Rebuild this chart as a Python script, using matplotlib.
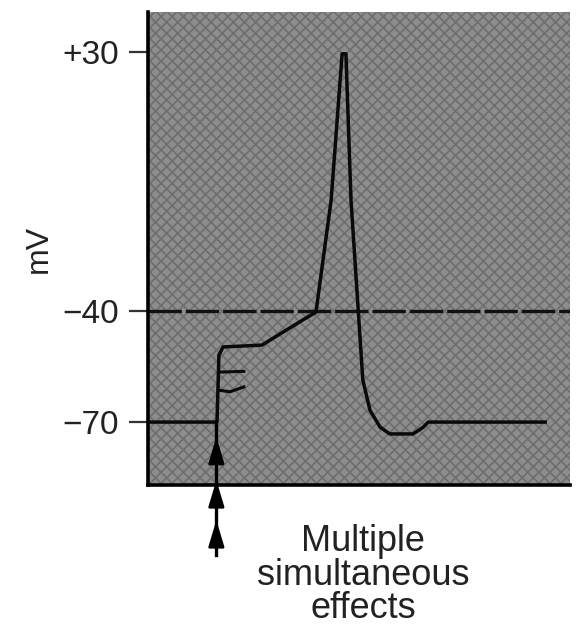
import matplotlib
matplotlib.use("Agg")
import matplotlib.pyplot as plt
from matplotlib.patches import Rectangle

plt.rcParams['font.family'] = ['Liberation Sans', 'DejaVu Sans']
plt.rcParams['hatch.linewidth'] = 1.2

# Membrane potential trace (time in arbitrary units, voltage in mV)
time_ms = [0.0, 16.35, 16.8, 17.8, 27.0, 36.7, 39.8, 43.4, 46.0, 46.9,
           48.1, 50.9, 52.6, 55.0, 57.3, 62.8, 65.2, 66.4, 94.1]
voltage_mv = [-70, -70, -51.9, -49.7, -49.2, -42.4, -40.3, -10.0, 29.5, 29.5,
              -10.0, -58.6, -66.8, -71.4, -73.2, -73.2, -71.4, -70, -70]

# Small summation steps on the rising phase
step_levels = [-56.5, -61.4]
step_start, step_end = 16.8, 22.7

threshold_mv = -40
tick_values = [30, -40, -70]
tick_labels = ["+30", "\u221240", "\u221270"]
stimulus_time = 16.2
arrow_tips = [-74.0, -85.7, -96.5]
arrow_tail = -106.0

fig = plt.figure(figsize=(5.79, 6.33), dpi=100)
ax = fig.add_axes([0.2556, 0.2338, 0.7289, 0.7473])

ax.set_xlim(0, 100)
ax.set_ylim(-87.0, 40.8)

# textured grey background
ax.set_facecolor('#8d8d8d')
ax.add_patch(Rectangle((0, 0), 1, 1, transform=ax.transAxes, facecolor='none',
                       edgecolor='#6e6e6e', hatch='xxx', linewidth=0, zorder=0.5))

ax.axhline(threshold_mv, color='#111111', lw=2.4, dashes=(10, 1.2), zorder=2)

ax.plot(time_ms, voltage_mv, color='#0a0a0a', lw=2.5, solid_joinstyle='round', zorder=3)
ax.plot([step_start, step_end], [step_levels[0], step_levels[0] + 0.2],
        color='#0a0a0a', lw=2.2, zorder=3)
ax.plot([step_start, 19.5, step_end], [step_levels[1], step_levels[1] - 0.4, step_levels[1] + 0.9],
        color='#0a0a0a', lw=2.2, zorder=3)

# stimulus arrows below the trace
ax.plot([stimulus_time, stimulus_time], [arrow_tail, voltage_mv[0]], color='#000000',
        lw=2.4, clip_on=False, zorder=4)
for tip in arrow_tips:
    ax.annotate('', xy=(stimulus_time, tip), xytext=(stimulus_time, tip - 6),
                arrowprops=dict(arrowstyle='-|>,head_length=0.8,head_width=0.24',
                                color='#000000', lw=2.0, mutation_scale=20,
                                shrinkA=0, shrinkB=0),
                annotation_clip=False, zorder=4)

ax.set_yticks(tick_values)
ax.set_yticklabels(tick_labels, fontsize=24, color='#222222')
ax.set_xticks([])
ax.tick_params(axis='y', length=14, width=1.6, pad=7, color='#333333')

ax.set_ylabel('mV', fontsize=23, color='#222222', labelpad=6)

for side in ('top', 'right'):
    ax.spines[side].set_visible(False)
ax.spines['left'].set_linewidth(2.6)
ax.spines['bottom'].set_linewidth(2.6)

fig.text(0.627, 0.0916, 'Multiple\nsimultaneous\neffects', ha='center', va='center',
         fontsize=26, color='#222222', linespacing=0.95)

fig.savefig('out.png', dpi=100)
